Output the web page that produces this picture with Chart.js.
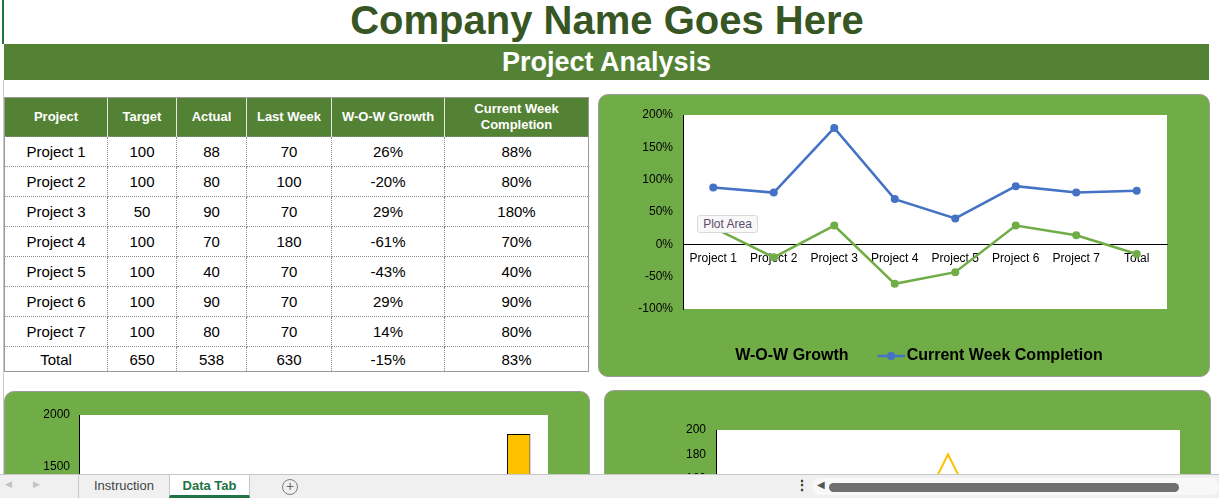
<!DOCTYPE html>
<html>
<head>
<meta charset="utf-8">
<script src="https://cdn.jsdelivr.net/npm/chart.js@4.4.1/dist/chart.umd.min.js"></script>
<style>
  html, body { margin: 0; padding: 0; width: 1219px; height: 498px; overflow: hidden; background: #fff; }
  body { position: relative; font-family: "Liberation Sans", Arial, sans-serif; }
  .abs { position: absolute; }
  #edge { left: 3px; top: 80px; width: 1px; height: 394px; background: #c8c8c8; }
  #edgeTop { left: 2px; top: 0; width: 2px; height: 44px; background: #217346; }
  #title { left: 4px; top: -1px; width: 1206px; height: 44px; line-height: 42px; text-align: center;
           font-weight: bold; font-size: 40px; color: #375623; }
  #banner { left: 4px; top: 44px; width: 1205px; height: 36px; line-height: 36px; text-align: center;
            background: #548235; color: #fff; font-weight: bold; font-size: 27px; }
  #tbl { left: 4px; top: 97px; border-collapse: collapse; table-layout: fixed; width: 584px; }
  #tbl th { background: #548235; color: #fff; font-weight: bold; font-size: 13px; height: 38px; padding: 0;
            line-height: 16px; border-left: 1px solid #e8e8e8; border-top: 1px solid #9a9a9a; }
  #tbl th:first-child { border-left: 1px solid #9a9a9a; }
  #tbl th:last-child { border-right: 1px solid #9a9a9a; }
  #tbl td { height: 29px; padding: 0; text-align: center; font-size: 15px; color: #000;
            border: 1px dotted #8c8c8c; }
  #tbl td:first-child { border-left: 1px solid #9a9a9a; }
  #tbl td:last-child { border-right: 1px solid #9a9a9a; }
  #tbl tr.last td { height: 24px; border-bottom: 1px solid #9a9a9a; }
  .box { background: #70AD47; border: 1px solid #9c9c9c; border-radius: 10px; box-sizing: border-box; }
  #tip { left: 697px; top: 215px; width: 61px; height: 18px; box-sizing: border-box; background: #f8f8f8;
         border: 1px solid #d9d9d9; border-radius: 3px; font-size: 12px; line-height: 16px; color: #5b4d6b;
         text-align: center; }
  #tabs { left: 0; top: 474px; width: 1219px; height: 24px; background: #f0f0f0; border-top: 1px solid #c6c6c6;
          box-sizing: border-box; }
  .tab { top: 0; height: 23px; line-height: 22px; text-align: center; font-size: 13px; box-sizing: border-box; }
  #tInst { left: 78px; width: 91px; color: #444; border-left: 1px solid #c6c6c6; }
  #tData { left: 169px; width: 81px; background: #fff; color: #217346; font-weight: bold;
           border-left: 1px solid #c6c6c6; border-right: 1px solid #c6c6c6; border-bottom: 3px solid #217346; }
  #plus { left: 282px; top: 4px; width: 16px; height: 16px; border: 1px solid #7a7a7a; border-radius: 50%;
          box-sizing: border-box; color: #6a6a6a; font-size: 14px; line-height: 13px; text-align: center; }
  .nav { top: 4px; font-size: 9px; color: #c4c4c4; }
  #dots { left: 795px; top: 2px; font-size: 14px; color: #333; font-weight: bold; }
  #track { left: 812px; top: 3px; width: 407px; height: 17px; background: #f8f8f8; border-radius: 8px; }
  #larr { left: 817px; top: 4px; font-size: 10px; color: #555; }
  #thumb { left: 829px; top: 8px; width: 350px; height: 9px; background: #6f6f6f; border-radius: 5px; }
</style>
</head>
<body>
<div id="edgeTop" class="abs"></div>
<div id="edge" class="abs"></div>
<div id="title" class="abs">Company Name Goes Here</div>
<div id="banner" class="abs">Project Analysis</div>

<table id="tbl" class="abs">
  <colgroup>
    <col style="width:103px"><col style="width:69px"><col style="width:70px">
    <col style="width:85px"><col style="width:113px"><col style="width:144px">
  </colgroup>
  <thead><tr id="head"></tr></thead>
  <tbody id="body"></tbody>
</table>

<div class="abs box" style="left:598px;top:94px;width:612px;height:283px;"></div>
<canvas id="wowChart" class="abs" style="left:598px;top:94px;" width="612" height="283"></canvas>
<div id="tip" class="abs">Plot Area</div>

<div class="abs box" style="left:4px;top:391px;width:586px;height:200px;"></div>
<canvas id="barChart" class="abs" style="left:4px;top:391px;" width="586" height="270"></canvas>

<div class="abs box" style="left:604px;top:390px;width:607px;height:200px;"></div>
<canvas id="lineChart" class="abs" style="left:604px;top:390px;" width="607" height="300"></canvas>

<div id="tabs" class="abs">
  <span class="abs nav" style="left:5px;">&#9664;</span>
  <span class="abs nav" style="left:33px;">&#9654;</span>
  <div id="tInst" class="abs tab">Instruction</div>
  <div id="tData" class="abs tab">Data Tab</div>
  <div id="plus" class="abs">+</div>
  <span id="dots" class="abs">&#8942;</span>
  <div id="track" class="abs"></div>
  <span id="larr" class="abs">&#9664;</span>
  <div id="thumb" class="abs"></div>
</div>

<script>
const headers = ['Project', 'Target', 'Actual', 'Last Week', 'W-O-W Growth', 'Current Week Completion'];
const projects = ['Project 1', 'Project 2', 'Project 3', 'Project 4', 'Project 5', 'Project 6', 'Project 7', 'Total'];
const target = [100, 100, 50, 100, 100, 100, 100, 650];
const actual = [88, 80, 90, 70, 40, 90, 80, 538];
const lastWeek = [70, 100, 70, 180, 70, 70, 70, 630];
const wowGrowth = [26, -20, 29, -61, -43, 29, 14, -15];
const completion = [88, 80, 180, 70, 40, 90, 80, 83];

const pctTicks = [-100, -50, 0, 50, 100, 150, 200];
const barTicks = [0, 500, 1000, 1500, 2000];
const lineTicks = [0, 20, 40, 60, 80, 100, 120, 140, 160, 180, 200];

// table
const head = document.getElementById('head');
headers.forEach(function(h) {
    const th = document.createElement('th');
    th.textContent = h;
    if (h === 'Current Week Completion') th.innerHTML = 'Current Week<br>Completion';
    head.appendChild(th);
});
const body = document.getElementById('body');
projects.forEach(function(p, i) {
    const tr = document.createElement('tr');
    if (i === projects.length - 1) tr.className = 'last';
    [p, target[i], actual[i], lastWeek[i], wowGrowth[i] + '%', completion[i] + '%'].forEach(function(v) {
        const td = document.createElement('td');
        td.textContent = v;
        tr.appendChild(td);
    });
    body.appendChild(tr);
});

Chart.defaults.font.family = '"Liberation Sans", Arial, sans-serif';
Chart.defaults.font.size = 12;
Chart.defaults.color = '#000';
Chart.defaults.animation = false;

const whitePlot = {
    id: 'whitePlot',
    beforeDraw(chart) {
        const a = chart.chartArea;
        const c = chart.ctx;
        c.save();
        c.fillStyle = '#fff';
        c.fillRect(a.left, a.top, a.right - a.left, a.bottom - a.top);
        c.restore();
    }
};

function marker(color) {
    const cv = document.createElement('canvas');
    cv.width = 34;
    cv.height = 10;
    const c = cv.getContext('2d');
    c.strokeStyle = color;
    c.lineWidth = 2.5;
    c.beginPath();
    c.moveTo(7, 5);
    c.lineTo(34, 5);
    c.stroke();
    c.fillStyle = color;
    c.beginPath();
    c.arc(20.5, 5, 4, 0, Math.PI * 2);
    c.fill();
    return cv;
}

const blue = '#4472C4';
const green = '#70AD47';
const orange = '#ED7D31';
const yellow = '#FFC000';

new Chart(document.getElementById('wowChart'), {
    type: 'line',
    data: {
        labels: projects,
        datasets: [{
            label: 'W-O-W Growth',
            data: wowGrowth,
            borderColor: green,
            backgroundColor: green,
            borderWidth: 2.5,
            pointRadius: 4,
            pointBorderWidth: 0,
            pointBackgroundColor: green
        }, {
            label: 'Current Week Completion',
            data: completion,
            borderColor: blue,
            backgroundColor: blue,
            borderWidth: 2.5,
            pointRadius: 4,
            pointBorderWidth: 0,
            pointBackgroundColor: blue
        }]
    },
    options: {
        responsive: false,
        events: [],
        layout: { padding: { top: 21, bottom: 3, left: 0, right: 0 } },
        plugins: {
            tooltip: { enabled: false },
            legend: {
                position: 'bottom',
                // empty title only adds space between plot and legend items
                title: { display: true, text: '', font: { size: 5 }, padding: { top: 5, bottom: 0 } },
                labels: {
                    usePointStyle: true,
                    pointStyleWidth: 22,
                    padding: 28,
                    color: '#000',
                    font: { size: 16, weight: 'bold' },
                    generateLabels(chart) {
                        const items = Chart.defaults.plugins.legend.labels.generateLabels(chart);
                        items.forEach(function(it, i) {
                            it.pointStyle = marker(chart.data.datasets[i].borderColor);
                        });
                        return items;
                    }
                }
            }
        },
        scales: {
            x: {
                offset: true,
                position: { y: 0 },
                grid: { display: false, drawTicks: false },
                border: { display: true, color: '#000', width: 1 },
                ticks: { padding: 7, maxRotation: 0, autoSkip: false, font: { size: 12 } }
            },
            y: {
                min: pctTicks[0],
                max: pctTicks[pctTicks.length - 1],
                grid: { display: false, drawTicks: false },
                border: { display: true, color: '#000', width: 1 },
                ticks: { stepSize: pctTicks[1] - pctTicks[0], padding: 10, callback: v => v + '%' },
                afterFit(s) { s.width = 85; }
            },
            y2: {
                position: 'right',
                grid: { display: false, drawTicks: false },
                border: { display: false },
                ticks: { display: false },
                afterFit(s) { s.width = 43; }
            }
        }
    },
    plugins: [whitePlot]
});

new Chart(document.getElementById('barChart'), {
    type: 'bar',
    data: {
        labels: projects,
        datasets: [
            { label: 'Target', data: target, backgroundColor: blue },
            { label: 'Actual', data: actual, backgroundColor: orange },
            { label: 'Last Week', data: lastWeek, backgroundColor: yellow }
        ].map(function(d) {
            d.borderColor = '#000';
            d.borderWidth = 1;
            d.borderSkipped = false;
            d.categoryPercentage = 0.8;
            d.barPercentage = 0.5;
            return d;
        })
    },
    options: {
        responsive: false,
        events: [],
        layout: { padding: { top: 24, right: 42, left: 0, bottom: 0 } },
        plugins: { legend: { display: false }, tooltip: { enabled: false } },
        scales: {
            x: {
                stacked: true,
                grid: { display: false, drawTicks: false },
                border: { display: true, color: '#000' },
                afterFit(s) { s.height = 38; }
            },
            y: {
                stacked: true,
                min: barTicks[0],
                max: barTicks[barTicks.length - 1],
                grid: { display: false, drawTicks: false },
                border: { display: true, color: '#000' },
                ticks: { stepSize: barTicks[1] - barTicks[0], padding: 9, callback: v => String(v) },
                afterFit(s) { s.width = 75; }
            }
        }
    },
    plugins: [whitePlot]
});

new Chart(document.getElementById('lineChart'), {
    type: 'line',
    data: {
        labels: projects.slice(0, 7),
        datasets: [
            { label: 'Target', data: target.slice(0, 7), borderColor: blue },
            { label: 'Actual', data: actual.slice(0, 7), borderColor: orange },
            { label: 'Last Week', data: lastWeek.slice(0, 7), borderColor: yellow }
        ].map(function(d) {
            d.borderWidth = 2;
            d.pointRadius = 0;
            d.tension = 0;
            return d;
        })
    },
    options: {
        responsive: false,
        events: [],
        layout: { padding: { top: 40, right: 31, left: 0, bottom: 0 } },
        plugins: { legend: { display: false }, tooltip: { enabled: false } },
        scales: {
            x: {
                offset: true,
                grid: { display: false, drawTicks: false },
                border: { display: true, color: '#000' },
                afterFit(s) { s.height = 6; }
            },
            y: {
                min: lineTicks[0],
                max: lineTicks[lineTicks.length - 1],
                grid: { display: false, drawTicks: false },
                border: { display: true, color: '#000' },
                ticks: { stepSize: lineTicks[1] - lineTicks[0], padding: 10, callback: v => String(v) },
                afterFit(s) { s.width = 112; }
            }
        }
    },
    plugins: [whitePlot]
});
</script>
</body>
</html>
